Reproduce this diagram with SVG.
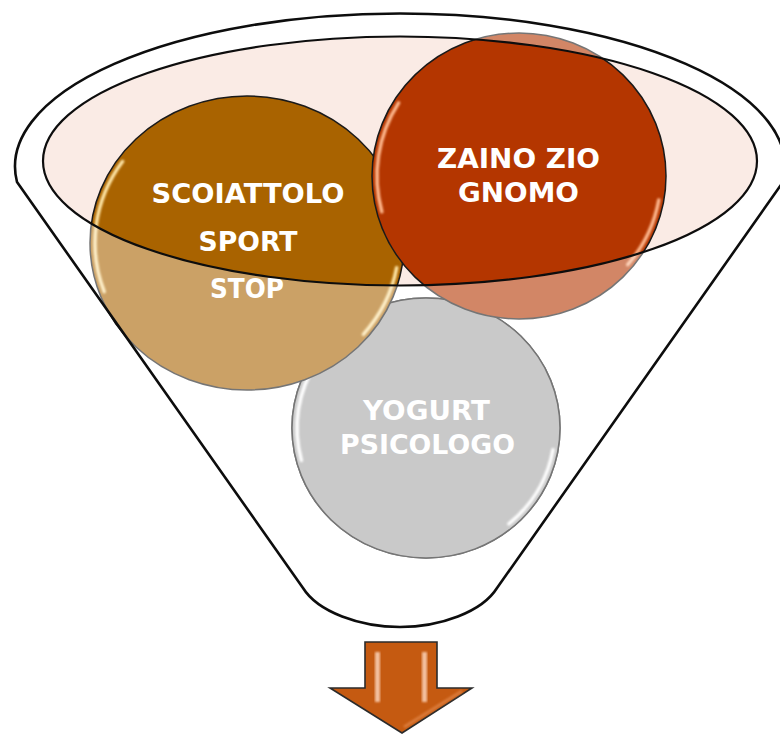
<svg xmlns="http://www.w3.org/2000/svg" width="780" height="735" viewBox="0 0 780 735">
  <defs>
    <style>
      .lbl { font-family: "DejaVu Sans", "Liberation Sans", sans-serif; font-weight: bold; font-size: 26px; fill: #ffffff; text-anchor: middle; }
      .rim { fill: none; stroke: #1a1a1a; stroke-width: 1.5; }
      .hl { fill: none; stroke-width: 3.5; stroke-linecap: round; filter: url(#soft); }
      .edge { fill: none; stroke: #0d0d0d; }
    </style>
    <filter id="soft" x="-20%" y="-20%" width="140%" height="140%">
      <feGaussianBlur stdDeviation="1.1"/>
    </filter>
  </defs>

  <rect x="0" y="0" width="780" height="735" fill="#ffffff"/>

  <!-- funnel opening (inner ellipse fill) -->
  <g id="funnel-opening">
    <ellipse cx="400" cy="161" rx="357" ry="124.5" fill="#FAEBE5"/>
  </g>

  <!-- nodes -->
  <g id="node-yogurt">
    <ellipse cx="426" cy="428" rx="134" ry="130" fill="#A5A5A5" class="rim"/>
    <ellipse cx="426" cy="428" rx="134" ry="130" fill="#A5A5A5"/>
    <path class="hl" stroke="#ffffff" d="M 316.6 361.8 A 129 125 0 0 0 301.4 460.4"/>
    <path class="hl" stroke="#ffffff" d="M 553 449.7 A 129 125 0 0 1 508.9 523.8"/>
    <ellipse cx="426" cy="428" rx="134" ry="130" class="rim"/>
    <text class="lbl" x="426.5" y="420" textLength="127" lengthAdjust="spacingAndGlyphs">YOGURT</text>
    <text class="lbl" x="427.5" y="454" textLength="175" lengthAdjust="spacingAndGlyphs">PSICOLOGO</text>
  </g>

  <g id="node-scoiattolo">
    <ellipse cx="247" cy="243" rx="157" ry="147" fill="#A96300"/>
    <path class="hl" stroke="#FFE7A8" d="M 122.5 161.5 A 152 142 0 0 0 104.2 291.6"/>
    <path class="hl" stroke="#FFE7A8" d="M 396.7 267.7 A 152 142 0 0 1 363.4 334.3"/>
    <ellipse cx="247" cy="243" rx="157" ry="147" class="rim"/>
    <text class="lbl" x="248" y="203" textLength="193" lengthAdjust="spacingAndGlyphs">SCOIATTOLO</text>
    <text class="lbl" x="248" y="251" textLength="99" lengthAdjust="spacingAndGlyphs">SPORT</text>
    <text class="lbl" x="247" y="298" textLength="74" lengthAdjust="spacingAndGlyphs">STOP</text>
  </g>

  <g id="node-zaino">
    <ellipse cx="519" cy="176" rx="147" ry="143" fill="#B43600"/>
    <path class="hl" stroke="#FFB98F" d="M 398.6 102.9 A 142 138 0 0 0 381.8 211.7"/>
    <path class="hl" stroke="#FFB98F" d="M 658.8 200 A 142 138 0 0 1 627.8 264.7"/>
    <ellipse cx="519" cy="176" rx="147" ry="143" class="rim"/>
    <text class="lbl" x="518.5" y="168" textLength="163" lengthAdjust="spacingAndGlyphs">ZAINO ZIO</text>
    <text class="lbl" x="518.5" y="202" textLength="121" lengthAdjust="spacingAndGlyphs">GNOMO</text>
  </g>

  <!-- funnel body (translucent glass over the circles, opening left clear) -->
  <g id="funnel">
    <path fill="#ffffff" fill-opacity="0.4" fill-rule="evenodd"
          d="M 17 182 A 385 153 0 1 1 783 182 L 497 588 C 482 612 440 627 400 627 C 360 627 318 612 303 588 Z
             M 43 161 A 357 124.5 0 1 0 757 161 A 357 124.5 0 1 0 43 161 Z"/>
    <path class="edge" stroke-width="2.6" stroke-linejoin="round"
          d="M 17 182 A 385 153 0 1 1 783 182 L 497 588 C 482 612 440 627 400 627 C 360 627 318 612 303 588 Z"/>
    <ellipse class="edge" stroke-width="2.2" cx="400" cy="161" rx="357" ry="124.5"/>
  </g>

  <!-- connector: output arrow -->
  <g id="connectors">
    <path d="M 365 642 L 437 642 L 437 688 L 472 688 L 402 733 L 330 688 L 365 688 Z"
          fill="#C55A11" stroke="#2b2b2b" stroke-width="1.6" stroke-linejoin="miter"/>
    <rect x="375" y="652" width="5" height="50" fill="#F8CBAD" opacity="0.9" filter="url(#soft)"/>
    <rect x="422" y="652" width="5" height="50" fill="#F8CBAD" opacity="0.9" filter="url(#soft)"/>
    <path d="M 404 727 L 462 691" stroke="#E58A4E" stroke-width="3" opacity="0.7" fill="none" filter="url(#soft)"/>
  </g>
</svg>
